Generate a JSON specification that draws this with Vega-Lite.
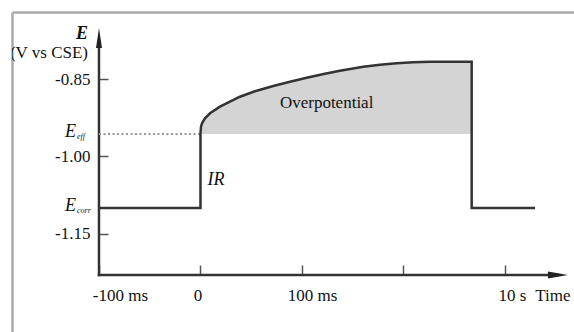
{
  "$schema": "https://vega.github.io/schema/vega-lite/v6.json",
  "width": 562,
  "height": 320,
  "autosize": {"type": "none"},
  "padding": {"left": 12, "top": 12, "right": 0, "bottom": 0},
  "background": "white",
  "config": {"view": {"stroke": null}, "font": "Liberation Serif"},
  "datasets": {
    "trace": [
      {"i": 0, "t": -1, "E": -1.1},
      {"i": 1, "t": 0, "E": -1.1},
      {"i": 2, "t": 0, "E": -0.9563},
      {"i": 3, "t": 0.005, "E": -0.9421},
      {"i": 4, "t": 0.015, "E": -0.9355},
      {"i": 5, "t": 0.044, "E": -0.9258},
      {"i": 6, "t": 0.094, "E": -0.9161},
      {"i": 7, "t": 0.192, "E": -0.9033},
      {"i": 8, "t": 0.389, "E": -0.8839},
      {"i": 9, "t": 0.554, "E": -0.8722},
      {"i": 10, "t": 0.717, "E": -0.8631},
      {"i": 11, "t": 0.882, "E": -0.8548},
      {"i": 12, "t": 1.046, "E": -0.847},
      {"i": 13, "t": 1.214, "E": -0.8398},
      {"i": 14, "t": 1.374, "E": -0.8334},
      {"i": 15, "t": 1.604, "E": -0.8256},
      {"i": 16, "t": 1.768, "E": -0.8217},
      {"i": 17, "t": 1.933, "E": -0.819},
      {"i": 18, "t": 2.097, "E": -0.8171},
      {"i": 19, "t": 2.261, "E": -0.8159},
      {"i": 20, "t": 2.672, "E": -0.8159},
      {"i": 21, "t": 2.672, "E": -1.1},
      {"i": 22, "t": 3.296, "E": -1.1}
    ],
    "axislines": [
      {"t": -1, "t2": -1, "E": -1.2301, "E2": -0.775},
      {"t": -1, "t2": 3.52, "E": -1.2301, "E2": -1.2301}
    ],
    "arrows": [
      {"t": -1, "E": -0.7699, "dir": "up"},
      {"t": 3.522, "E": -1.2301, "dir": "right"}
    ],
    "eff": [{"t": -1, "t2": 0, "E": -0.9563}],
    "elabels": [
      {"t": -1, "E": -0.9563, "main": "E", "sub": "eff"},
      {"t": -1, "E": -1.1, "main": "E", "sub": "corr"}
    ],
    "notes": [{"t": 1.243, "E": -0.8967, "text": "Overpotential"}],
    "ir": [{"t": 0, "E": -1.0456, "text": "IR"}],
    "ytitle": [{"t": -1, "E": -0.7621, "text": "E"}],
    "unit": [{"t": -1, "E": -0.799, "text": "(V vs CSE)"}]
  },
  "resolve": {"axis": {"x": "independent", "y": "independent"}},
  "layer": [
    {
      "data": {"name": "axislines"},
      "mark": {"type": "rule", "color": "#333333", "strokeWidth": 2.5, "strokeCap": "square"},
      "encoding": {
        "x": {"field": "t", "type": "quantitative", "scale": {"domain": [-1.857, 3.68], "nice": false, "zero": false},
          "axis": {"orient": "top", "domain": true, "domainColor": "#aaaaaa", "domainWidth": 2.5, "ticks": false, "labels": false, "title": null, "grid": false}},
        "x2": {"field": "t2"},
        "y": {"field": "E", "type": "quantitative", "scale": {"domain": [-1.3408, -0.7194], "nice": false, "zero": false},
          "axis": {"orient": "left", "domain": true, "domainColor": "#aaaaaa", "domainWidth": 2.5, "ticks": false, "labels": false, "title": null, "grid": false}},
        "y2": {"field": "E2"}
      }
    },
    {
      "data": {"name": "trace"},
      "transform": [{"filter": "datum.i >= 2 && datum.i <= 20"}],
      "mark": {"type": "area", "color": "#d4d4d4", "opacity": 1, "orient": "vertical"},
      "encoding": {
        "x": {"field": "t", "type": "quantitative", "scale": {"domain": [-1.857, 3.68], "nice": false, "zero": false}, "axis": null},
        "y": {"field": "E", "type": "quantitative", "stack": null, "scale": {"domain": [-1.3408, -0.7194], "nice": false, "zero": false}, "axis": null},
        "y2": {"datum": -0.9563}
      }
    },
    {
      "data": {"name": "eff"},
      "mark": {"type": "rule", "color": "#999999", "strokeWidth": 2, "strokeDash": [2, 2.5]},
      "encoding": {
        "x": {"field": "t", "type": "quantitative", "scale": {"domain": [-1.857, 3.68], "nice": false, "zero": false}, "axis": null},
        "x2": {"field": "t2"},
        "y": {"field": "E", "type": "quantitative", "scale": {"domain": [-1.3408, -0.7194], "nice": false, "zero": false}, "axis": null}
      }
    },
    {
      "data": {"name": "trace"},
      "mark": {"type": "line", "color": "#333333", "strokeWidth": 2.5, "strokeJoin": "miter"},
      "encoding": {
        "x": {"field": "t", "type": "quantitative", "scale": {"domain": [-1.857, 3.68], "nice": false, "zero": false},
          "axis": {
            "orient": "bottom", "offset": -57, "domain": false, "grid": false,
            "values": [-1, 0, 1, 2, 3],
            "labelExpr": "datum.value == -1 ? '-100 ms' : datum.value == 0 ? '0' : datum.value == 1 ? '100 ms' : datum.value == 3 ? '10 s' : ''",
            "tickSize": -10, "tickColor": "#555555", "tickWidth": 1.5,
            "labelPadding": 22, "labelFont": "Liberation Serif", "labelFontSize": 17, "labelColor": "#111111",
            "labelAlign": "center",
            "labelOffset": {"condition": [{"test": "datum.value == -1", "value": 21}, {"test": "datum.value == 0", "value": -3}, {"test": "datum.value == 1", "value": 10}], "value": 7},
            "labelFlush": false, "labelOverlap": false, "labelBound": false,
            "title": "Time", "titleX": 558, "titleY": 12, "titleAlign": "right", "titleBaseline": "top",
            "titleFont": "Liberation Serif", "titleFontSize": 17, "titleFontWeight": "normal", "titleColor": "#111111", "titleAngle": 0
          }},
        "y": {"field": "E", "type": "quantitative", "scale": {"domain": [-1.3408, -0.7194], "nice": false, "zero": false},
          "axis": {
            "orient": "left", "offset": -87, "domain": false, "grid": false,
            "values": [-0.85, -1, -1.15],
            "labelExpr": "datum.value == -0.85 ? '-0.85' : datum.value == -1 ? '-1.00' : '-1.15'",
            "tickSize": -9, "tickColor": "#555555", "tickWidth": 1.5, "labelPadding": 18,
            "labelFont": "Liberation Serif", "labelFontSize": 17, "labelColor": "#111111",
            "labelOverlap": false, "labelFlush": false, "labelBound": false,
            "title": null
          }},
        "order": {"field": "i"}
      }
    },
    {
      "data": {"name": "arrows"},
      "mark": {"type": "point", "filled": true, "color": "#222222", "opacity": 1, "size": 400},
      "encoding": {
        "x": {"field": "t", "type": "quantitative", "scale": {"domain": [-1.857, 3.68], "nice": false, "zero": false}, "axis": null},
        "y": {"field": "E", "type": "quantitative", "scale": {"domain": [-1.3408, -0.7194], "nice": false, "zero": false}, "axis": null},
        "shape": {"field": "dir", "type": "nominal", "legend": null,
          "scale": {"domain": ["up", "right"], "range": ["M-0.3,1L0,-1L0.3,1Z", "M-1,-0.35L1,0L-1,0.35Z"]}}
      }
    },
    {
      "data": {"name": "notes"},
      "mark": {"type": "text", "font": "Liberation Serif", "fontSize": 17, "color": "#111111", "align": "center", "baseline": "middle"},
      "encoding": {
        "x": {"field": "t", "type": "quantitative", "scale": {"domain": [-1.857, 3.68], "nice": false, "zero": false}, "axis": null},
        "y": {"field": "E", "type": "quantitative", "scale": {"domain": [-1.3408, -0.7194], "nice": false, "zero": false}, "axis": null},
        "text": {"field": "text"}
      }
    },
    {
      "data": {"name": "ir"},
      "mark": {"type": "text", "font": "Liberation Serif", "fontSize": 18, "fontStyle": "italic", "color": "#111111", "align": "left", "baseline": "middle", "dx": 7},
      "encoding": {
        "x": {"field": "t", "type": "quantitative", "scale": {"domain": [-1.857, 3.68], "nice": false, "zero": false}, "axis": null},
        "y": {"field": "E", "type": "quantitative", "scale": {"domain": [-1.3408, -0.7194], "nice": false, "zero": false}, "axis": null},
        "text": {"field": "text"}
      }
    },
    {
      "data": {"name": "ytitle"},
      "mark": {"type": "text", "font": "Liberation Serif", "fontSize": 18, "fontStyle": "italic", "fontWeight": "bold", "color": "#111111", "align": "right", "baseline": "middle", "dx": -11},
      "encoding": {
        "x": {"field": "t", "type": "quantitative", "scale": {"domain": [-1.857, 3.68], "nice": false, "zero": false}, "axis": null},
        "y": {"field": "E", "type": "quantitative", "scale": {"domain": [-1.3408, -0.7194], "nice": false, "zero": false}, "axis": null},
        "text": {"field": "text"}
      }
    },
    {
      "data": {"name": "elabels"},
      "mark": {"type": "text", "font": "Liberation Serif", "fontSize": 18, "fontStyle": "italic", "color": "#111111", "align": "right", "baseline": "middle", "dx": -23, "dy": -2},
      "encoding": {
        "x": {"field": "t", "type": "quantitative", "scale": {"domain": [-1.857, 3.68], "nice": false, "zero": false}, "axis": null},
        "y": {"field": "E", "type": "quantitative", "scale": {"domain": [-1.3408, -0.7194], "nice": false, "zero": false}, "axis": null},
        "text": {"field": "main"}
      }
    },
    {
      "data": {"name": "elabels"},
      "mark": {"type": "text", "font": "Liberation Serif", "fontSize": 8, "fontStyle": "italic", "color": "#111111", "align": "left", "baseline": "middle", "dx": -22, "dy": 3},
      "encoding": {
        "x": {"field": "t", "type": "quantitative", "scale": {"domain": [-1.857, 3.68], "nice": false, "zero": false}, "axis": null},
        "y": {"field": "E", "type": "quantitative", "scale": {"domain": [-1.3408, -0.7194], "nice": false, "zero": false}, "axis": null},
        "text": {"field": "sub"}
      }
    },
    {
      "data": {"name": "unit"},
      "mark": {"type": "text", "font": "Liberation Serif", "fontSize": 17, "color": "#111111", "align": "right", "baseline": "middle", "dx": -11, "clip": true},
      "encoding": {
        "x": {"field": "t", "type": "quantitative", "scale": {"domain": [-1.857, 3.68], "nice": false, "zero": false}, "axis": null},
        "y": {"field": "E", "type": "quantitative", "scale": {"domain": [-1.3408, -0.7194], "nice": false, "zero": false}, "axis": null},
        "text": {"field": "text"}
      }
    }
  ]
}
